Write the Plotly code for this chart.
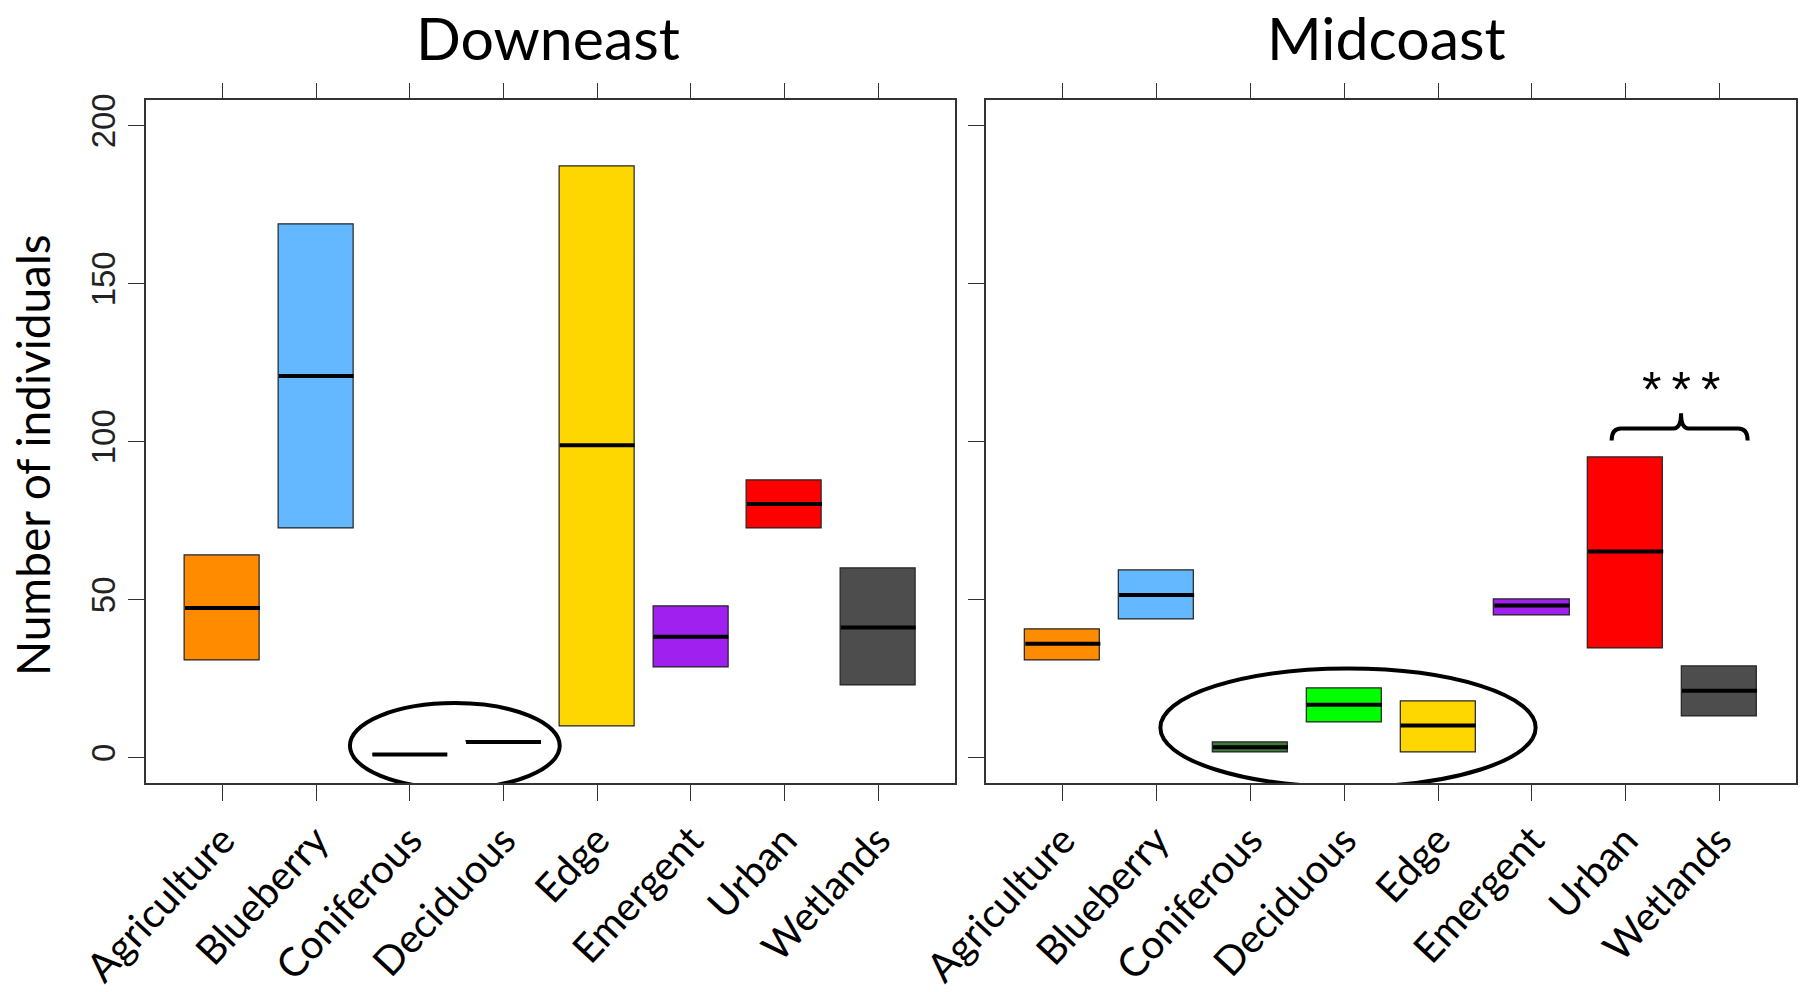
import plotly.graph_objects as go

categories = ["Agriculture", "Blueberry", "Coniferous", "Deciduous", "Edge", "Emergent", "Urban", "Wetlands"]
colors = ["#FF8C00", "#63B8FF", "#3B7A3B", "#00FF00", "#FFD700", "#A020F0", "#FF0000", "#4D4D4D"]

# Downeast: lower hinge, median, upper hinge
down_lower = [30.7, 72.6, 1.0, 5.0, 9.9, 28.5, 72.6, 23.0]
down_median = [47.4, 120.8, 1.0, 5.0, 98.9, 38.3, 80.3, 41.2]
down_upper = [63.9, 168.6, 1.0, 5.0, 187.2, 47.8, 87.6, 59.9]

# Midcoast
mid_lower = [30.7, 43.8, 1.8, 11.0, 1.8, 44.9, 34.7, 13.1]
mid_median = [36.1, 51.5, 3.3, 16.8, 10.2, 48.2, 65.3, 21.2]
mid_upper = [40.5, 59.1, 4.7, 21.9, 17.9, 50.0, 95.1, 28.8]

y_ticks = [0, 50, 100, 150, 200]
panel_titles = ["Downeast", "Midcoast"]

FONT = "Lato, Liberation Sans, Arial, sans-serif"
TICKFONT = "Liberation Sans, Arial, sans-serif"
xpos = list(range(1, len(categories) + 1))
BOXW = 0.8

fig = go.Figure()

def add_panel(lower, median, upper, xa, ya):
    heights = [u - l for l, u in zip(lower, upper)]
    fig.add_trace(go.Bar(
        x=xpos, y=heights, base=lower, width=BOXW,
        marker=dict(color=colors, line=dict(color="#222222", width=1.2)),
        xaxis=xa, yaxis=ya, showlegend=False, hoverinfo="skip"))
    mx, my = [], []
    for x, m in zip(xpos, median):
        mx += [x - BOXW / 2, x + BOXW / 2, None]
        my += [m, m, None]
    fig.add_trace(go.Scatter(x=mx, y=my, mode="lines",
                             line=dict(color="black", width=4),
                             xaxis=xa, yaxis=ya, showlegend=False, hoverinfo="skip"))

add_panel(down_lower, down_median, down_upper, "x", "y")
add_panel(mid_lower, mid_median, mid_upper, "x2", "y2")

ydom = [0.2107, 0.8987]
xcommon = dict(range=[0.18, 8.82], tickmode="array", tickvals=xpos, ticktext=categories,
               tickangle=-47, ticks="outside", ticklen=16, tickwidth=1.2, tickcolor="#333333",
               showline=True, linecolor="#333333", linewidth=1.5, mirror="ticks",
               showgrid=False, zeroline=False, automargin=False,
               tickfont=dict(family=FONT, size=40, color="black"))
ycommon = dict(range=[-8, 208], tickmode="array", tickvals=y_ticks,
               ticks="outside", ticklen=16, tickwidth=1.2, tickcolor="#333333",
               showline=True, linecolor="#333333", linewidth=1.5, mirror=True,
               showgrid=False, zeroline=False, domain=ydom, automargin=False,
               tickangle=-90, tickfont=dict(family=TICKFONT, size=33, color="#222222"))

fig.update_layout(
    width=1808, height=992, autosize=False,
    margin=dict(l=0, r=0, t=0, b=0, pad=0),
    paper_bgcolor="white", plot_bgcolor="white",
    bargap=0,
    xaxis=dict(domain=[0.0806, 0.5282], anchor="y", **xcommon),
    xaxis2=dict(domain=[0.5453, 0.9936], anchor="y2", **xcommon),
    yaxis=dict(anchor="x", showticklabels=True, **ycommon),
    yaxis2=dict(anchor="x2", showticklabels=False, **ycommon),
)

# panel titles
for title, cx in zip(panel_titles, [548, 1386]):
    fig.add_annotation(text=title, x=cx / 1808, y=1.0, xref="paper", yref="paper",
                       xanchor="center", yanchor="top", showarrow=False,
                       font=dict(family=FONT, size=59, color="black"))
# y-axis title
fig.add_annotation(text="Number of individuals", x=32 / 1808, y=1 - 455 / 992,
                   xref="paper", yref="paper", xanchor="center", yanchor="middle",
                   showarrow=False, textangle=-90,
                   font=dict(family=FONT, size=46, color="black"))

# highlight ellipses
fig.add_shape(type="circle", xref="x", yref="y", x0=2.36, x1=4.60, y0=-9.7, y1=17.3,
              line=dict(color="black", width=4))
fig.add_shape(type="circle", xref="x2", yref="y2", x0=2.04, x1=6.04, y0=-9.2, y1=28.2,
              line=dict(color="black", width=4))

# significance bracket
xl, xm, xr = 6.85, 7.59, 8.30
yb, yl, yt = 100.4, 104.2, 109.0
path = (f"M {xl},{yb} Q {xl},{yl} {xl+0.1},{yl} L {xm-0.08},{yl} "
        f"Q {xm},{yl} {xm},{yt} Q {xm},{yl} {xm+0.08},{yl} L {xr-0.1},{yl} Q {xr},{yl} {xr},{yb}")
fig.add_shape(type="path", xref="x2", yref="y2", path=path, line=dict(color="black", width=4))
fig.add_annotation(text="*\u2009*\u2009*", x=xm, y=116.5, xref="x2", yref="y2", showarrow=False,
                   xanchor="center", yanchor="middle",
                   font=dict(family=TICKFONT, size=50, color="black"))

fig.write_html("out.html", config={"displayModeBar": False},
               post_script="document.body.style.margin='0';")
